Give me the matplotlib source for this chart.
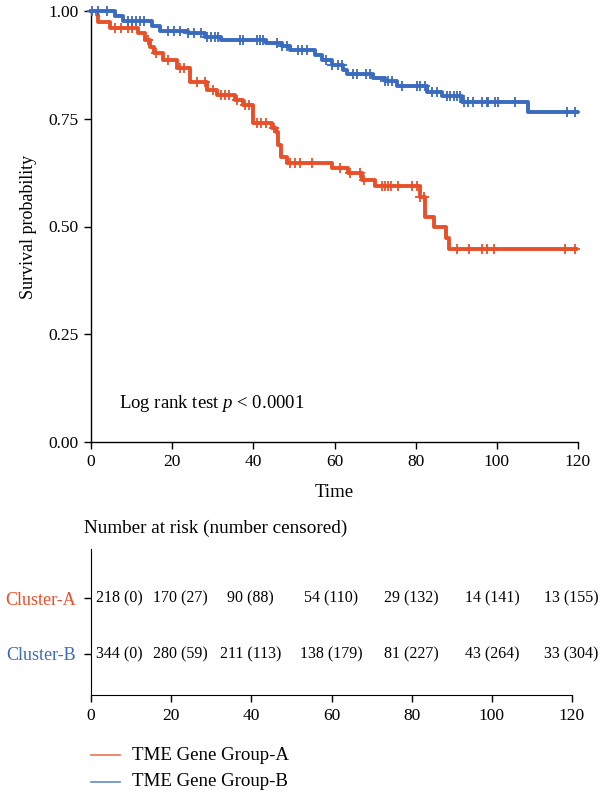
import numpy as np
import matplotlib
matplotlib.use("Agg")
import matplotlib.pyplot as plt
from matplotlib.lines import Line2D

plt.rcParams['font.family'] = ['Liberation Serif', 'DejaVu Serif']
plt.rcParams['mathtext.fontset'] = 'custom'
plt.rcParams['mathtext.rm'] = 'Liberation Serif'
plt.rcParams['mathtext.it'] = 'Liberation Serif:italic'

# ---------------- data ----------------
time_a = [0, 1.4, 1.8, 4.7, 11.7, 13.3, 14.5, 15.5, 17.7, 21.2, 24.4, 28.5, 31, 35.5,
          37.5, 40, 44.5, 45.5, 46.2, 46.8, 48.2, 59.3, 63.4, 66.7, 70, 81.1, 82.3,
          84.4, 87.5, 88.3, 119.5]
surv_a = [1.0, 0.99, 0.975, 0.960, 0.948, 0.933, 0.917, 0.902, 0.886, 0.867, 0.836,
          0.817, 0.805, 0.794, 0.782, 0.739, 0.728, 0.720, 0.689, 0.662, 0.647, 0.635,
          0.623, 0.608, 0.594, 0.569, 0.523, 0.498, 0.473, 0.448, 0.448]
cens_a = [6, 7.5, 9, 10, 14, 16, 19, 22, 23, 26, 28, 30, 32, 33, 34, 36, 38, 39, 41, 42,
          43, 45, 49, 50.3, 51.5, 54.4, 61.4, 63.8, 66.3, 67.3, 71.6, 72.4, 73.2, 74,
          75.7, 79, 80.3, 81.1, 82, 90.1, 93.2, 96.3, 97.7, 99.3, 116.8, 119.3]

time_b = [0, 6, 8, 15, 17, 24, 28, 32, 43, 47, 49, 55.2, 57, 59.5, 62.1, 63.1, 69.5,
          72.4, 75.3, 82.7, 86.4, 91.4, 107.6, 119.7]
surv_b = [1.0, 0.988, 0.977, 0.965, 0.954, 0.948, 0.940, 0.933, 0.926, 0.918, 0.909,
          0.898, 0.886, 0.875, 0.863, 0.854, 0.844, 0.837, 0.825, 0.813, 0.803, 0.788,
          0.765, 0.765]
cens_b = [0.2, 1.8, 3.9, 9, 10, 11, 12, 13, 19, 20.5, 22, 24, 25.5, 27, 28.5, 29.5,
          30.5, 31.4, 36.7, 37.5, 40.8, 41.6, 42.4, 45.8, 47, 48.2, 51, 52, 53.2, 58,
          59.5, 60.8, 61.8, 64.6, 65.5, 67.8, 68.8, 72.4, 73.2, 74.1, 76.6, 80.3, 81.1,
          82.3, 84, 85.2, 87.7, 88.5, 89.5, 90.1, 90.9, 91.8, 93, 94.2, 96.3, 97.5,
          97.9, 99.6, 100.4, 104.5, 117.2, 119.3]

risk_times = [0, 20, 40, 60, 80, 100, 120]
risk_a = ["218 (0)", "170 (27)", "90 (88)", "54 (110)", "29 (132)", "14 (141)", "13 (155)"]
risk_b = ["344 (0)", "280 (59)", "211 (113)", "138 (179)", "81 (227)", "43 (264)", "33 (304)"]

groups = ["Cluster-A", "Cluster-B"]
legend_labels = ["TME Gene Group-A", "TME Gene Group-B"]
y_ticks = [0.0, 0.25, 0.5, 0.75, 1.0]
y_ticklabels = ["0.00", "0.25", "0.50", "0.75", "1.00"]

c_a = '#E8502A'
c_b = '#3A6BBE'

# ---------------- figure ----------------
W, H = 600, 796
fig = plt.figure(figsize=(W / 100, H / 100), dpi=100)

def fx(px):
    return px / W

def fy(py):
    return 1 - py / H

L, R = 91, 578
ax = fig.add_axes([fx(L), fy(442), fx(R) - fx(L), fy(11) - fy(442)])

def step_y(times, surv, t):
    idx = np.searchsorted(times, t, side='right') - 1
    return np.asarray(surv)[idx]

for times, surv, cens, col in [(time_a, surv_a, cens_a, c_a), (time_b, surv_b, cens_b, c_b)]:
    ax.step(times, surv, where='post', color=col, lw=2.8, clip_on=False, zorder=3)
    cy = [step_y(times, surv, t) for t in cens]
    ax.plot(cens, cy, ls='none', marker='+', ms=7, mew=1.3, color=col, clip_on=False, zorder=4)

ax.set_xlim(0, 120)
ax.set_ylim(0, 1.0)
ax.set_xticks(risk_times)
ax.set_yticks(y_ticks)
ax.set_yticklabels(y_ticklabels)
for s in ['top', 'right']:
    ax.spines[s].set_visible(False)
for s in ['left', 'bottom']:
    ax.spines[s].set_linewidth(1.0)
ax.tick_params(direction='out', length=5, width=1, labelsize=12.5, pad=4)
ax.set_xlabel("Time", fontsize=13.5, labelpad=10)
ax.set_ylabel("Survival probability", fontsize=13, labelpad=8)
ax.text(7, 0.09, "Log rank test $\\it{p}$ < 0.0001", fontsize=13.5, va='center', ha='left')

# ---------------- risk table ----------------
R2 = 572
rax = fig.add_axes([fx(L), fy(695), fx(R2) - fx(L), fy(549) - fy(695)])
rax.set_xlim(0, 120)
rax.set_ylim(0, 1)
rax.set_xticks(risk_times)
rax.set_yticks([0.664, 0.281])
rax.set_yticklabels(groups)
for lab, col in zip(rax.get_yticklabels(), [c_a, c_b]):
    lab.set_color(col)
for s in ['top', 'right']:
    rax.spines[s].set_visible(False)
rax.tick_params(direction='out', length=5, width=1, labelsize=12.5, pad=4)
rax.tick_params(axis='y', labelsize=13, pad=6, length=5)

# label centres (pixels) converted to data units of the risk axis
px_centres = [119.6, 180, 250.7, 331, 411, 492, 571]
xpos = [(p - L) * 120 / (R2 - L) for p in px_centres]
for x, ta, tb in zip(xpos, risk_a, risk_b):
    rax.text(x, 0.664, ta, ha='center', va='center', fontsize=11.5)
    rax.text(x, 0.281, tb, ha='center', va='center', fontsize=11.5)

fig.text(fx(84), fy(528), "Number at risk (number censored)", fontsize=13.8, ha='left', va='center')

# ---------------- legend ----------------
for i, (lab, col) in enumerate(zip(legend_labels, [c_a, c_b])):
    yy = fy(755 + 27 * i)
    fig.add_artist(Line2D([fx(91), fx(120)], [yy, yy], color=col, lw=1.2, alpha=0.8))
    fig.text(fx(132), yy, lab, fontsize=13.6, ha='left', va='center')

fig.savefig("out.png", dpi=100)
